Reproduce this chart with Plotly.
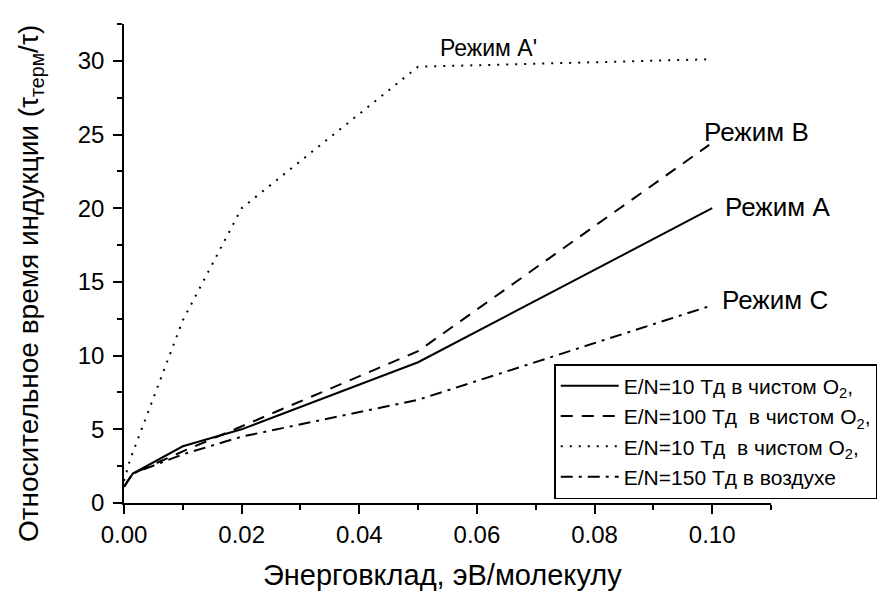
import plotly.graph_objects as go

# Data
x_a = [0.0, 0.0015, 0.01, 0.02, 0.05, 0.100]
y_a = [1.1, 2.0, 3.85, 5.0, 9.55, 20.0]

x_b = [0.0, 0.0015, 0.01, 0.02, 0.05, 0.0995]
y_b = [1.1, 2.0, 3.5, 5.2, 10.3, 24.3]

x_ap = [0.0, 0.001, 0.01, 0.02, 0.05, 0.099]
y_ap = [1.5, 2.9, 12.4, 20.0, 29.6, 30.1]

x_c = [0.0, 0.0015, 0.01, 0.02, 0.05, 0.0995]
y_c = [1.1, 2.0, 3.3, 4.5, 7.0, 13.35]

names = [
    "E/N=10 Тд в чистом O<sub>2</sub>,",
    "E/N=100 Тд  в чистом O<sub>2</sub>,",
    "E/N=10 Тд  в чистом O<sub>2</sub>,",
    "E/N=150 Тд в воздухе",
]

labels = ["Режим A'", "Режим B", "Режим A", "Режим C"]
label_x = [0.0534, 0.0983, 0.1019, 0.1013]
label_y = [30.9, 25.15, 20.06, 13.8]
label_size = [23, 26, 26, 26]

x_title = "Энерговклад, эВ/молекулу"
y_title = "Относительное время индукции (τ<sub>терм</sub>/τ)"

FONT = "Liberation Sans, Arial, sans-serif"

fig = go.Figure()
fig.add_trace(go.Scatter(x=x_a, y=y_a, mode="lines", name=names[0],
                         line=dict(color="black", width=2, dash="solid")))
fig.add_trace(go.Scatter(x=x_b, y=y_b, mode="lines", name=names[1],
                         line=dict(color="black", width=2, dash="12px,9px")))
fig.add_trace(go.Scatter(x=x_ap, y=y_ap, mode="lines", name=names[2],
                         line=dict(color="black", width=2, dash="2px,7px")))
fig.add_trace(go.Scatter(x=x_c, y=y_c, mode="lines", name=names[3],
                         line=dict(color="black", width=2, dash="12px,6px,3px,6px")))

for t, xx, yy, s in zip(labels, label_x, label_y, label_size):
    fig.add_annotation(x=xx, y=yy, text=t, showarrow=False, xanchor="left",
                       yanchor="middle", font=dict(size=s, color="black", family=FONT))

fig.add_annotation(xref="paper", yref="paper", x=0.493, y=-0.1503, text=x_title,
                   showarrow=False, xanchor="center", yanchor="middle",
                   font=dict(size=29, color="black", family=FONT))
fig.add_annotation(xref="paper", yref="paper", x=-0.1444, y=0.4583, text=y_title,
                   showarrow=False, xanchor="center", yanchor="middle", textangle=-90,
                   font=dict(size=28, color="black", family=FONT))

# page body adds an 8px offset; figure is sized so the plot area lands where the reference's is
fig.update_layout(
    width=881, height=583,
    paper_bgcolor="white", plot_bgcolor="white",
    margin=dict(l=116, r=114, t=16, b=88),
    font=dict(family=FONT, color="black"),
    showlegend=True,
    legend=dict(x=0.665, y=0.29, xanchor="left", yanchor="top",
                bordercolor="black", borderwidth=1.5, bgcolor="white",
                font=dict(size=21, color="black", family=FONT),
                tracegroupgap=0, itemwidth=58),
    xaxis=dict(range=[0, 0.11], tickvals=[0, 0.02, 0.04, 0.06, 0.08, 0.10],
               ticktext=["0.00", "0.02", "0.04", "0.06", "0.08", "0.10"],
               ticks="outside", ticklen=9, tickwidth=1.5, tickcolor="black",
               minor=dict(dtick=0.01, tick0=0, ticks="outside", ticklen=5, tickwidth=1.5, tickcolor="black"),
               showline=True, linecolor="black", linewidth=1.5, showgrid=False, zeroline=False,
               tickfont=dict(size=24, family=FONT), automargin=False),
    yaxis=dict(range=[0, 32.5], tickvals=[0, 5, 10, 15, 20, 25, 30],
               ticks="outside", ticklen=9, tickwidth=1.5, tickcolor="black",
               minor=dict(dtick=2.5, tick0=0, ticks="outside", ticklen=5, tickwidth=1.5, tickcolor="black"),
               showline=True, linecolor="black", linewidth=1.5, showgrid=False, zeroline=False,
               tickfont=dict(size=24, family=FONT), ticklabelstandoff=4, automargin=False),
)

fig.write_html("out.html")
